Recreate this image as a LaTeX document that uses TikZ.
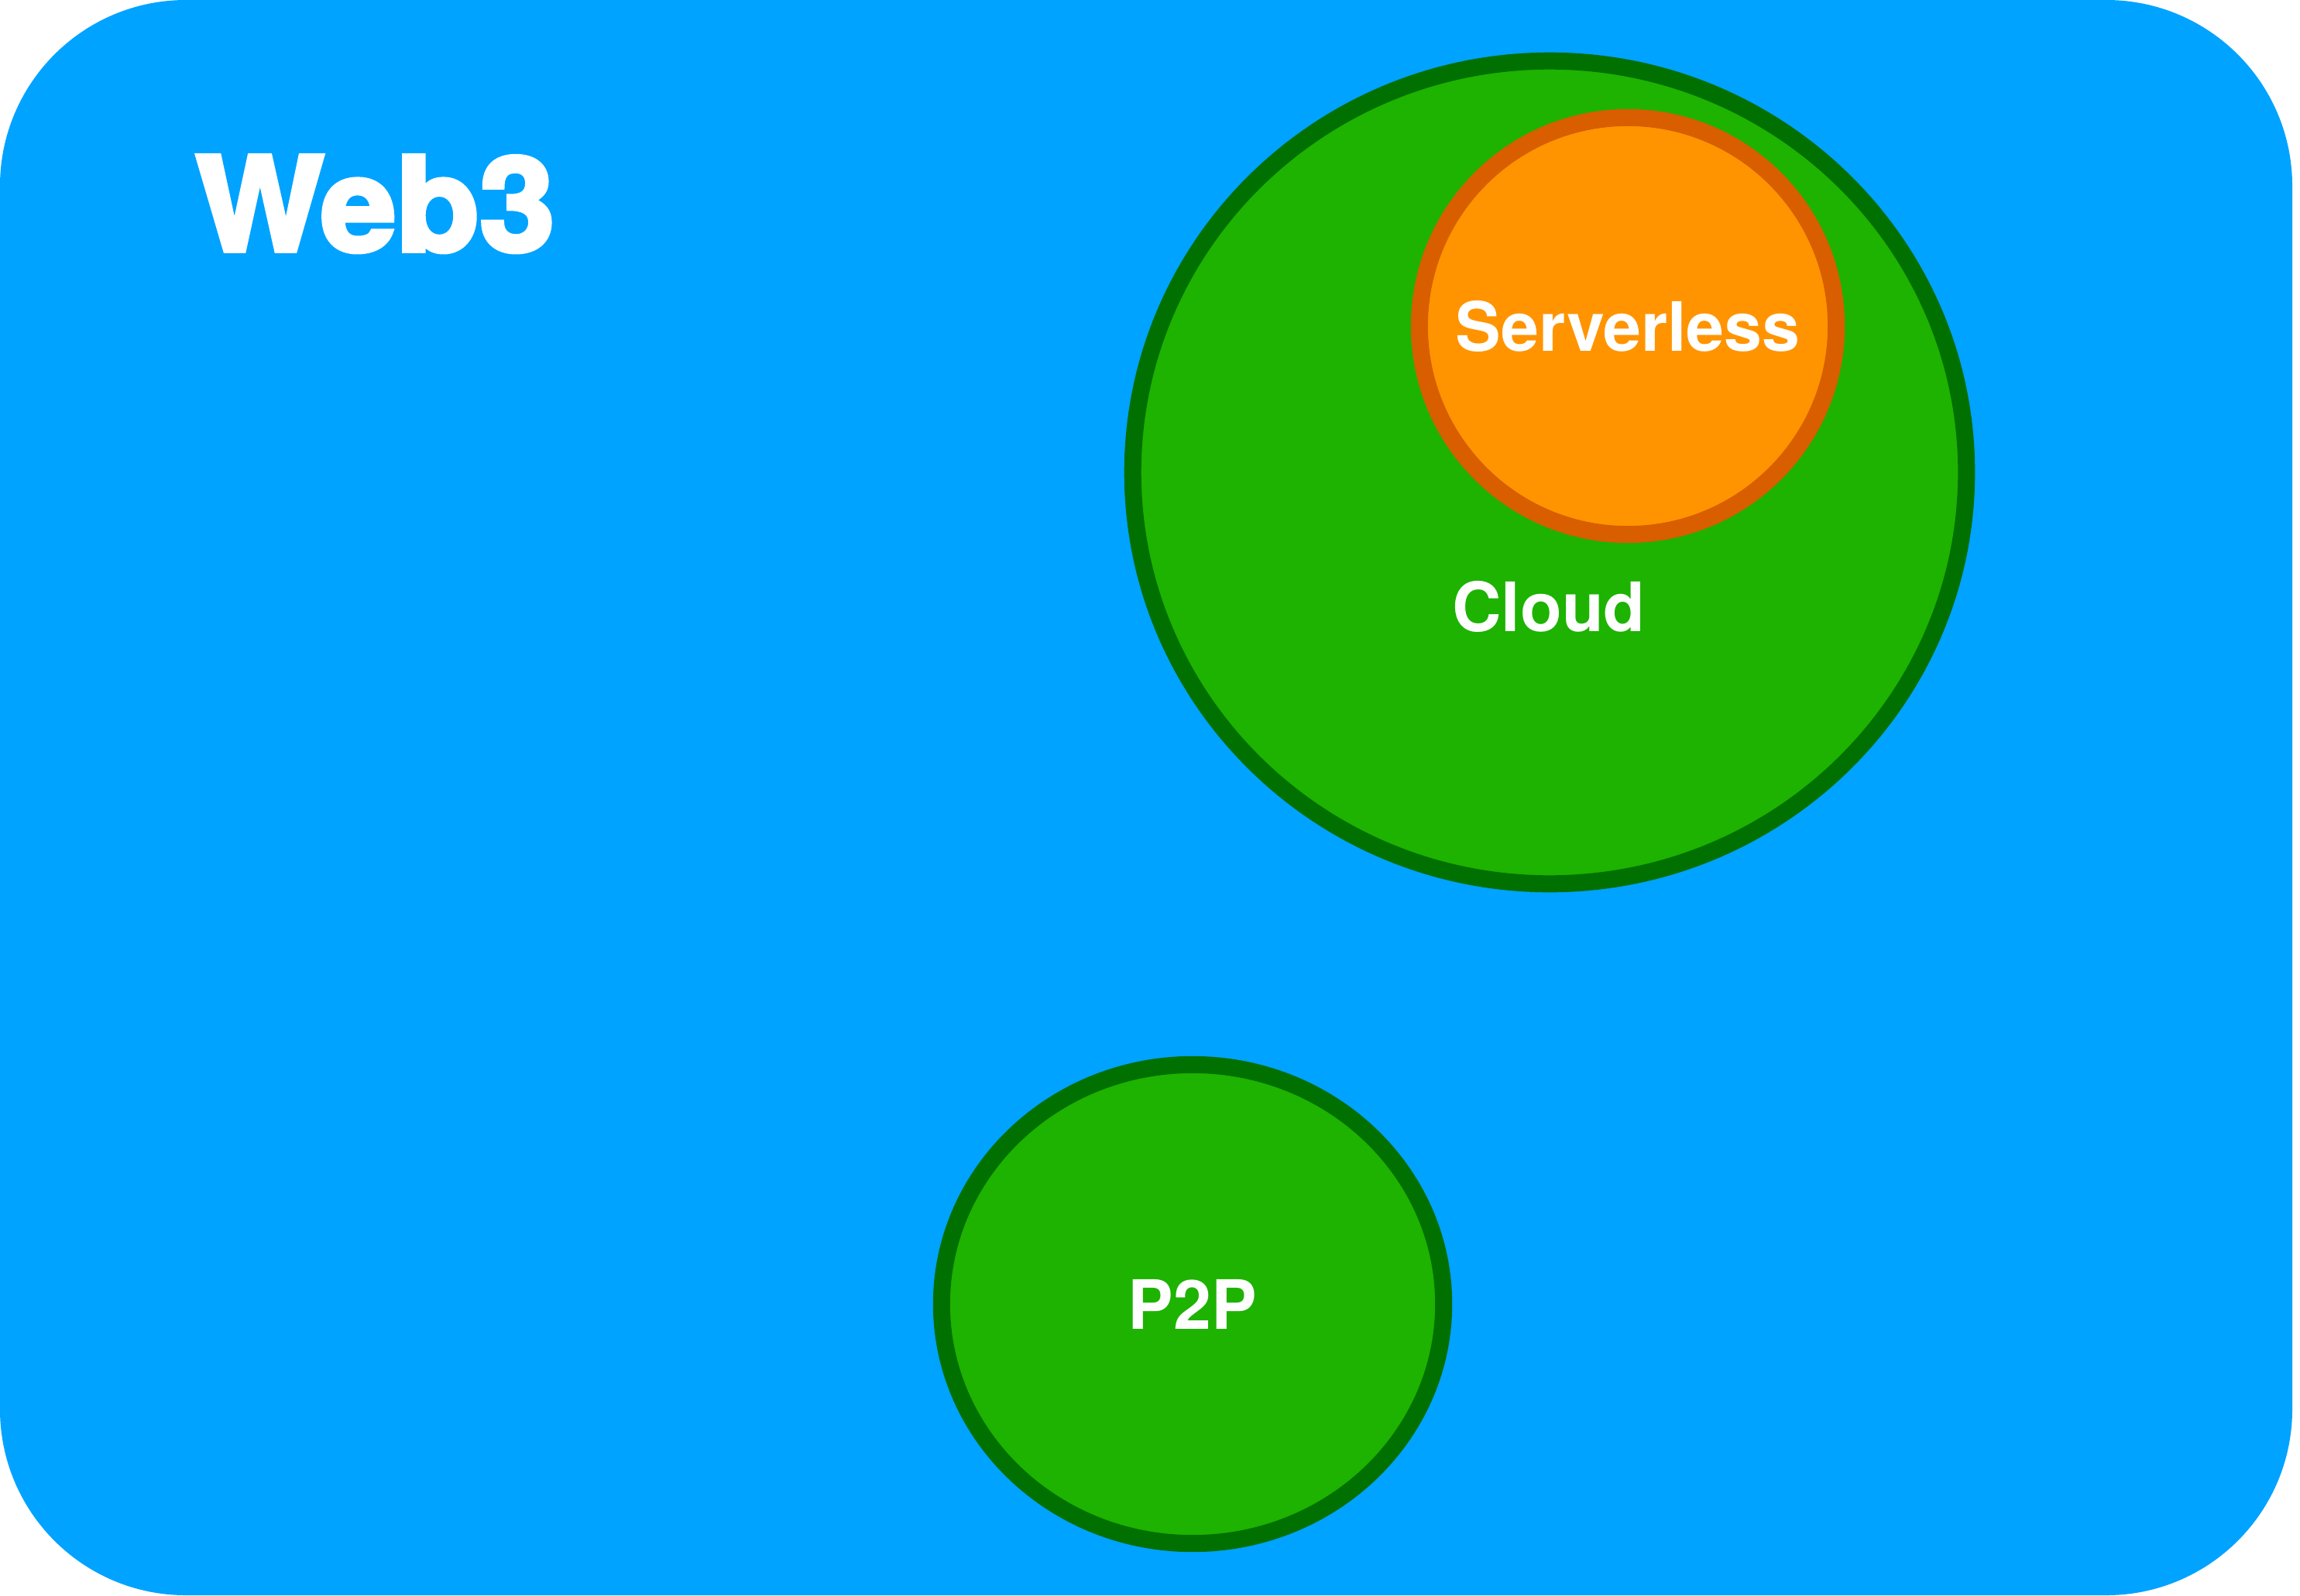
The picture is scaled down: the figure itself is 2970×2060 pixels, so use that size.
\documentclass[tikz,border=0pt]{standalone}
\usepackage{fontspec}
\setmainfont{TeX Gyre Heros}
\newfontfamily\heavyfont{TeX Gyre Heros}[BoldFeatures={FakeBold=3.5,FakeStretch=1.04}]
\usetikzlibrary{positioning}
\usetikzlibrary{shapes.geometric}
\definecolor{skyblue}{RGB}{0,163,255}
\definecolor{leaf}{RGB}{29,179,0}
\definecolor{darkleaf}{RGB}{0,112,0}
\definecolor{amber}{RGB}{255,148,0}
\definecolor{rust}{RGB}{216,94,0}

\begin{document}
\begin{tikzpicture}[x=0.01cm, y=-0.01cm,
    zone/.style={ellipse, draw=darkleaf, fill=leaf, line width=0.22cm, inner sep=0pt},
    zonelabel/.style={text=white, font=\bfseries\fontsize{25}{30}\selectfont}]
\useasboundingbox (0,0) rectangle (2970,2060);

% --- background ---
\fill[skyblue, rounded corners=2.4cm] (0,0) rectangle (2960,2060);
\node[text=white, inner sep=0pt, anchor=base west, font=\heavyfont\bfseries\fontsize{48}{56}\selectfont] (web) at (252,324) {Web3};

% --- cloud with serverless inside ---
\node[zone, minimum width=10.76cm, minimum height=10.62cm] (cloud) at (2001,610) {};
\node[zone, circle, draw=rust, fill=amber, minimum size=5.38cm, zonelabel] (srv) at (2102,421) {Serverless};
\node[zonelabel] (cloudlbl) at (2000,783) {Cloud};

% --- p2p ---
\node[zone, minimum width=6.48cm, minimum height=6.18cm, zonelabel] (p2p) at (1540,1684) {P2P};
\end{tikzpicture}
\end{document}
